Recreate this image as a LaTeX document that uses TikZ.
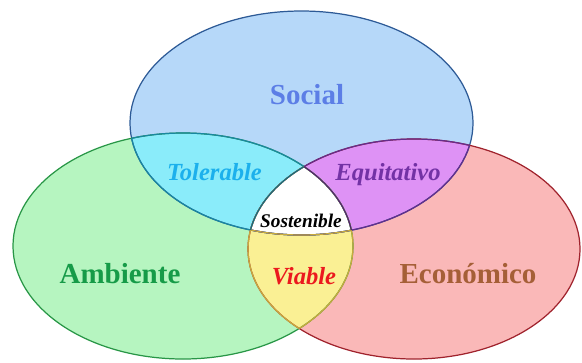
\documentclass[tikz,border=0pt]{standalone}
\usepackage{fontspec}
\setmainfont{Liberation Serif}
\definecolor{socFill}{RGB}{182,216,249}
\definecolor{ambFill}{RGB}{182,245,192}
\definecolor{ecoFill}{RGB}{250,184,184}
\definecolor{tolFill}{RGB}{138,236,250}
\definecolor{equFill}{RGB}{222,146,245}
\definecolor{viaFill}{RGB}{250,240,148}
\definecolor{socLine}{RGB}{45,90,150}
\definecolor{ambLine}{RGB}{40,150,70}
\definecolor{ecoLine}{RGB}{160,35,45}
\definecolor{tolLine}{RGB}{25,135,160}
\definecolor{equLine}{RGB}{100,45,140}
\definecolor{viaLine}{RGB}{200,170,60}
\definecolor{socText}{RGB}{92,126,230}
\definecolor{ambText}{RGB}{22,155,72}
\definecolor{ecoText}{RGB}{165,95,55}
\definecolor{tolText}{RGB}{28,176,236}
\definecolor{equText}{RGB}{115,50,165}
\definecolor{viaText}{RGB}{235,25,30}
\tikzstyle{rim}=[line width=0.7pt]
\tikzstyle{area}=[anchor=base, font=\bfseries\fontsize{16.5}{18}\selectfont]
\tikzstyle{overlap}=[anchor=base, font=\bfseries\itshape\fontsize{14}{16}\selectfont]
\def\social{(6.03,-2.46) ellipse [x radius=3.43, y radius=2.24]}
\def\ambiente{(3.66,-4.92) ellipse [x radius=3.40, y radius=2.26]}
\def\economico{(8.28,-4.98) ellipse [x radius=3.32, y radius=2.20]}

\begin{document}
\begin{tikzpicture}
	\useasboundingbox (0,0) rectangle (11.64,-7.24);

	% The three spheres
	\fill[ambFill] \ambiente;
	\fill[ecoFill] \economico;
	\fill[socFill] \social;

	% Overlaps of two spheres
	\begin{scope}
		\clip \social;
		\fill[tolFill] \ambiente;
		\fill[equFill] \economico;
	\end{scope}
	\begin{scope}
		\clip \ambiente;
		\fill[viaFill] \economico;
	\end{scope}

	% Overlap of all three
	\begin{scope}
		\clip \social; \clip \ambiente;
		\fill[white] \economico;
	\end{scope}

	% Outlines
	\draw[rim, socLine] \social;
	\draw[rim, ambLine] \ambiente;
	\draw[rim, ecoLine] \economico;

	% Outlines inside the overlaps
	\begin{scope} \clip \ambiente; \draw[rim, tolLine] \social; \end{scope}
	\begin{scope} \clip \economico; \draw[rim, equLine] \social; \end{scope}
	\begin{scope} \clip \social; \draw[rim, tolLine] \ambiente; \end{scope}
	\begin{scope} \clip \economico; \draw[rim, viaLine] \ambiente; \end{scope}
	\begin{scope} \clip \social; \draw[rim, equLine] \economico; \end{scope}
	\begin{scope} \clip \ambiente; \draw[rim, viaLine] \economico; \end{scope}
	\begin{scope} \clip \ambiente; \clip \economico; \draw[rim, viaLine] \social; \end{scope}
	\begin{scope} \clip \social; \clip \economico; \draw[rim, equLine!80!black] \ambiente; \end{scope}
	\begin{scope} \clip \social; \clip \ambiente; \draw[rim, tolLine!80!black] \economico; \end{scope}

	% Labels
	\node[area, socText] (social) at (6.14,-2.08) {Social};
	\node[area, ambText] (ambiente) at (2.40,-5.66) {Ambiente};
	\node[area, ecoText] (economico) at (9.36,-5.66) {Económico};

	\node[overlap, tolText] (tolerable) at (4.29,-3.60) {Tolerable};
	\node[overlap, equText] (equitativo) at (7.76,-3.60) {Equitativo};
	\node[overlap, viaText] (viable) at (6.08,-5.68) {Viable};
	\node[overlap, black, font=\bfseries\itshape\fontsize{11}{13}\selectfont] (sostenible) at (6.02,-4.54) {Sostenible};
\end{tikzpicture}
\end{document}
